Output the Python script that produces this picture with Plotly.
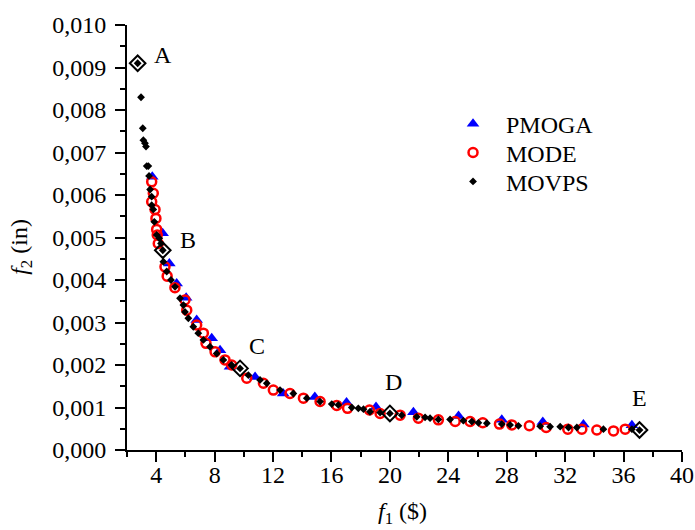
import plotly.graph_objects as go

# ---------------- data ----------------
pmoga_x = [3.73, 4.44, 4.90, 5.40, 6.05, 6.77, 7.80, 8.37, 9.05, 10.77, 12.69, 14.86,
           17.03, 19.05, 21.61, 24.70, 27.66, 30.47, 33.25, 36.57]
pmoga_y = [0.00643, 0.00510, 0.00439, 0.00392, 0.00358, 0.00306, 0.00263, 0.00235, 0.00196,
           0.00172, 0.00133, 0.00125, 0.00112, 0.00101, 0.00089, 0.00080, 0.00071, 0.00066,
           0.00060, 0.00058]

mode_x = [3.69, 3.80, 3.69, 3.92, 3.98, 4.03, 4.07, 4.14, 4.60, 4.75, 5.28, 5.97, 6.09, 6.77,
          7.23, 7.41, 8.03, 8.71, 9.17, 10.20, 11.34, 12.02, 13.16, 14.08, 15.22, 16.36, 17.10,
          18.60, 19.33, 20.70, 21.95, 23.32, 24.47, 25.49, 26.36, 27.50, 28.35, 29.55, 30.70,
          32.18, 33.14, 34.17, 35.31, 36.11]
mode_y = [0.00631, 0.00604, 0.00584, 0.00566, 0.00545, 0.00519, 0.00506, 0.00486, 0.00431,
          0.00409, 0.00382, 0.00353, 0.00329, 0.00294, 0.00275, 0.00251, 0.00231, 0.00212,
          0.00200, 0.00169, 0.00157, 0.00141, 0.00133, 0.00122, 0.00114, 0.00105, 0.00098,
          0.00094, 0.00086, 0.00082, 0.00075, 0.00071, 0.00067, 0.00067, 0.00064, 0.00061,
          0.00059, 0.00057, 0.00053, 0.00049, 0.00049, 0.00047, 0.00045, 0.00049]

movps_x = [2.73, 2.96, 3.08, 3.12, 3.23, 3.30, 3.35, 3.46, 3.51, 3.58, 3.69, 3.69, 3.80, 3.87,
           4.03, 4.21, 4.33, 4.45, 4.49, 4.72, 5.01, 5.29, 5.63, 5.86, 5.97, 6.20, 6.54, 6.88,
           7.23, 7.68, 8.14, 8.60, 9.16, 9.74, 10.31, 11.11, 11.57, 12.48, 13.39, 14.31, 15.22,
           16.02, 16.47, 17.39, 17.84, 18.19, 18.64, 19.33, 20.00, 20.81, 21.84, 22.41, 22.75,
           23.32, 24.12, 25.03, 25.61, 26.06, 26.64, 27.66, 28.23, 28.80, 30.29, 30.97, 31.66,
           32.23, 32.80, 34.62, 36.57, 37.09]
movps_y = [0.00910, 0.00830, 0.00757, 0.00729, 0.00722, 0.00714, 0.00668, 0.00668, 0.00645,
           0.00613, 0.00596, 0.00576, 0.00566, 0.00537, 0.00506, 0.00498, 0.00486, 0.00470,
           0.00443, 0.00420, 0.00400, 0.00384, 0.00357, 0.00341, 0.00325, 0.00310, 0.00290,
           0.00275, 0.00259, 0.00243, 0.00227, 0.00212, 0.00200, 0.00192, 0.00176, 0.00165,
           0.00157, 0.00141, 0.00133, 0.00122, 0.00114, 0.00108, 0.00106, 0.00100, 0.00098,
           0.00096, 0.00090, 0.00088, 0.00086, 0.00082, 0.00078, 0.00077, 0.00075, 0.00072,
           0.00072, 0.00069, 0.00067, 0.00064, 0.00063, 0.00061, 0.00059, 0.00057, 0.00056,
           0.00055, 0.00055, 0.00053, 0.00053, 0.00049, 0.00049, 0.00047]

key_labels = ["A", "B", "C", "D", "E"]
key_x = [2.73, 4.45, 9.74, 20.00, 37.09]
key_y = [0.00910, 0.00470, 0.00192, 0.00086, 0.00047]

x_ticks = [4, 8, 12, 16, 20, 24, 28, 32, 36, 40]
y_ticks = [0.000, 0.001, 0.002, 0.003, 0.004, 0.005, 0.006, 0.007, 0.008, 0.009, 0.010]

# ---------------- figure ----------------
FONT = "Liberation Serif, Times New Roman, serif"

fig = go.Figure()
fig.add_trace(go.Scatter(x=pmoga_x, y=pmoga_y, mode="markers", name="PMOGA", legend="legend",
                         marker=dict(symbol="triangle-up", size=11, color="#0000ff",
                                     line=dict(width=0))))
fig.add_trace(go.Scatter(x=mode_x, y=mode_y, mode="markers", name="MODE", legend="legend2",
                         marker=dict(symbol="circle-open", size=9, color="#ff0000",
                                     line=dict(width=2.5, color="#ff0000"))))
fig.add_trace(go.Scatter(x=movps_x, y=movps_y, mode="markers", name="MOVPS", legend="legend3",
                         marker=dict(symbol="diamond", size=6, color="black",
                                     line=dict(width=0))))
fig.add_trace(go.Scatter(x=key_x, y=key_y, mode="markers", showlegend=False,
                         marker=dict(symbol="diamond-open", size=12, color="black",
                                     line=dict(width=2, color="black"))))

label_shift = {"A": (25, 8), "B": (25, 10), "C": (17, 22), "D": (4, 31), "E": (0, 32)}
for lab, xv, yv in zip(key_labels, key_x, key_y):
    dx, dy = label_shift[lab]
    fig.add_annotation(x=xv, y=yv, xref="x", yref="y", text=lab, showarrow=False,
                       xshift=dx, yshift=dy, font=dict(family=FONT, size=24, color="black"))

fig.add_annotation(x=0.4955, y=-0.148, xref="paper", yref="paper",
                   text="<i>f</i><sub>1</sub> ($)", showarrow=False,
                   xanchor="center", yanchor="middle",
                   font=dict(family=FONT, size=24, color="black"))
fig.add_annotation(x=-0.191, y=0.478, xref="paper", yref="paper",
                   text="<i>f</i><sub>2</sub> (in)", showarrow=False, textangle=-90,
                   xanchor="center", yanchor="middle",
                   font=dict(family=FONT, size=24, color="black"))

axis_common = dict(showgrid=False, zeroline=False, showline=True, linecolor="black",
                   linewidth=1.8, ticks="outside", ticklen=10, tickwidth=1.6,
                   tickcolor="black", mirror=False, automargin=False,
                   tickfont=dict(family=FONT, size=24, color="black"))

fig.update_xaxes(range=[2, 40], tickvals=x_ticks, ticktext=[str(v) for v in x_ticks],
                 ticklabelstandoff=-8,
                 minor=dict(dtick=2, tick0=0, ticks="outside", ticklen=5, tickwidth=1.6,
                            tickcolor="black", showgrid=False),
                 **axis_common)
fig.update_yaxes(range=[0, 0.010], tickvals=y_ticks, tickformat=".3f",
                 ticklabelstandoff=4,
                 minor=dict(dtick=0.0005, tick0=0, ticks="outside", ticklen=5, tickwidth=1.6,
                            tickcolor="black", showgrid=False),
                 **axis_common)

leg_common = dict(x=0.564, xanchor="left", yanchor="middle", itemwidth=56,
                  bgcolor="rgba(0,0,0,0)", borderwidth=0,
                  font=dict(family=FONT, size=24, color="black"))

fig.update_layout(
    width=695, height=530,
    margin=dict(l=127, r=13, t=25, b=80, autoexpand=False),
    separators=",.",
    plot_bgcolor="white", paper_bgcolor="white",
    font=dict(family=FONT, size=24, color="black"),
    showlegend=True,
    legend=dict(y=0.767, **leg_common),
    legend2=dict(y=0.699, **leg_common),
    legend3=dict(y=0.631, **leg_common),
)

fig.write_html("out.html", config={"displayModeBar": False},
               post_script="document.body.style.margin='0';")
